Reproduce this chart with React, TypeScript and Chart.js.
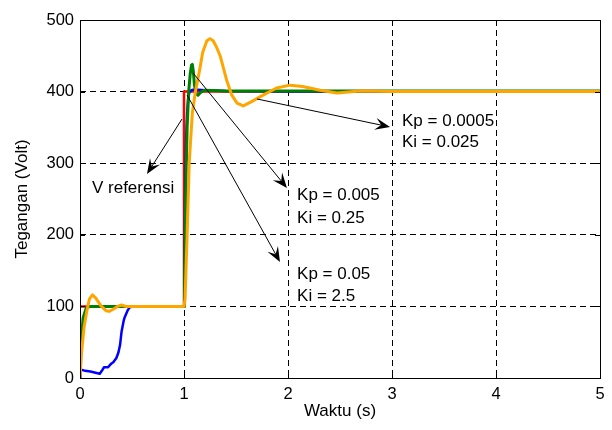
import React, { useEffect, useRef } from "react";
import { Chart, registerables } from "chart.js";

Chart.register(...registerables);

// ---- Axis ticks ----
const xTicks = [0, 1, 2, 3, 4, 5];
const yTicks = [0, 100, 200, 300, 400, 500];

// ---- V referensi (red) ----
const refTime = [0, 1, 1, 5];
const refVolt = [100, 100, 400, 400];

// ---- Kp = 0.05, Ki = 2.5 (blue) ----
const blueTime = [0, 0.005, 0.05, 0.1, 0.19, 0.21, 0.23, 0.27, 0.3, 0.32, 0.35, 0.37, 0.385, 0.4, 0.42, 0.43, 0.46, 0.48, 0.55, 1.0, 1.005, 1.01, 1.02, 1.03, 1.04, 1.05, 1.07, 1.1, 1.2, 1.4, 2, 5];
const blueVolt = [0, 12, 10, 9, 6, 10, 15, 15, 20, 22, 28, 36, 46, 65, 80, 85, 95, 99, 100, 100, 150, 250, 330, 370, 390, 398, 402, 403, 402, 401, 400, 400];

// ---- Kp = 0.005, Ki = 0.25 (green) ----
const greenTime = [0, 0.01, 0.03, 0.06, 0.1, 1.0, 1.005, 1.015, 1.03, 1.045, 1.06, 1.072, 1.08, 1.09, 1.1, 1.115, 1.135, 1.16, 1.2, 1.4, 2, 5];
const greenVolt = [30, 50, 84, 98, 100, 100, 130, 250, 350, 400, 425, 437, 438, 428, 410, 397, 395, 399, 402, 401, 401, 401];

// ---- Kp = 0.0005, Ki = 0.025 (orange) ----
const orangeTime = [0, 0.015, 0.04, 0.065, 0.09, 0.12, 0.15, 0.2, 0.25, 0.28, 0.32, 0.36, 0.4, 0.44, 0.5, 1.0, 1.01, 1.03, 1.05, 1.08, 1.11, 1.15, 1.18, 1.22, 1.25, 1.28, 1.31, 1.35, 1.41, 1.46, 1.51, 1.57, 1.65, 1.76, 1.89, 2.02, 2.14, 2.31, 2.47, 2.69, 3.0, 5];
const orangeVolt = [0, 35, 72, 93, 110, 116, 112, 101, 94, 93, 96, 100, 102, 100, 100, 100, 110, 200, 300, 370, 400, 430, 455, 471, 474, 471, 463, 449, 416, 395, 384, 380, 386, 395, 405, 409, 407, 402, 398, 401, 400, 400];

// ---- Annotations (data coordinates) ----
const noteLines = [["V referensi"], ["Kp = 0.005", "Ki = 0.25"], ["Kp = 0.05", "Ki = 2.5"], ["Kp = 0.0005", "Ki = 0.025"]];
const noteX = [0.115, 2.087, 2.087, 3.096];
const noteY = [[265.4], [255.6, 223.5], [145.3, 114.5], [359, 329.6]];
const arrowFromX = [0.981, 1.087, 1.029, 1.702];
const arrowFromY = [361.7, 426, 395.3, 389.7];
const arrowToX = [0.644, 1.99, 1.923, 2.981];
const arrowToY = [284.9, 265.4, 162, 350.6];

const FONT = "'Liberation Sans', Arial, sans-serif";

const toPts = (t: number[], v: number[]) => t.map((x, i) => ({ x, y: v[i] }));

const overlayPlugin = {
  id: "overlay",
  afterDatasetsDraw(chart: any) {
    const { ctx, chartArea: a } = chart;
    const xs = chart.scales.x;
    const ys = chart.scales.y;
    ctx.save();
    ctx.setLineDash([]);
    ctx.strokeStyle = "#000";
    ctx.lineWidth = 1;
    // box
    ctx.strokeRect(a.left + 0.5, a.top + 0.5, a.right - a.left, a.bottom - a.top);
    // inward ticks
    const tl = 5;
    ctx.beginPath();
    xTicks.forEach((v) => {
      const px = Math.round(xs.getPixelForValue(v)) + 0.5;
      ctx.moveTo(px, a.bottom);
      ctx.lineTo(px, a.bottom - tl);
      ctx.moveTo(px, a.top);
      ctx.lineTo(px, a.top + tl);
    });
    yTicks.forEach((v) => {
      const py = Math.round(ys.getPixelForValue(v)) + 0.5;
      ctx.moveTo(a.left, py);
      ctx.lineTo(a.left + tl, py);
      ctx.moveTo(a.right, py);
      ctx.lineTo(a.right - tl, py);
    });
    ctx.stroke();

    // arrows
    arrowFromX.forEach((_, i) => {
      const x1 = xs.getPixelForValue(arrowFromX[i]);
      const y1 = ys.getPixelForValue(arrowFromY[i]);
      const x2 = xs.getPixelForValue(arrowToX[i]);
      const y2 = ys.getPixelForValue(arrowToY[i]);
      const ang = Math.atan2(y2 - y1, x2 - x1);
      const len = 15, hw = 6, notch = 9;
      const c = Math.cos(ang), s = Math.sin(ang);
      ctx.beginPath();
      ctx.moveTo(x1, y1);
      ctx.lineTo(x2 - c * notch, y2 - s * notch);
      ctx.stroke();
      const bx = x2 - c * len, by = y2 - s * len;
      ctx.beginPath();
      ctx.moveTo(x2, y2);
      ctx.lineTo(bx - s * hw, by + c * hw);
      ctx.lineTo(x2 - c * notch, y2 - s * notch);
      ctx.lineTo(bx + s * hw, by - c * hw);
      ctx.closePath();
      ctx.fillStyle = "#000";
      ctx.fill();
    });

    // texts
    ctx.fillStyle = "#000";
    ctx.font = `17px ${FONT}`;
    ctx.textAlign = "left";
    ctx.textBaseline = "middle";
    noteLines.forEach((lines, i) => {
      const px = xs.getPixelForValue(noteX[i]);
      lines.forEach((txt, j) => {
        ctx.fillText(txt, px, ys.getPixelForValue(noteY[i][j]));
      });
    });
    ctx.restore();
  },
};

export default function App() {
  const ref = useRef<HTMLCanvasElement | null>(null);
  useEffect(() => {
    document.body.style.margin = "0";
    const canvas = ref.current;
    if (!canvas) return;
    const gridColor = (edgeA: number, edgeB: number) => (c: any) =>
      c.tick && (c.tick.value === edgeA || c.tick.value === edgeB) ? "rgba(0,0,0,0)" : "#000";
    const chart = new Chart(canvas, {
      type: "line",
      data: {
        datasets: [
          { label: "Kp = 0.0005", data: toPts(orangeTime, orangeVolt), borderColor: "#ffa500", borderWidth: 3 },
          { label: "Kp = 0.005", data: toPts(greenTime, greenVolt), borderColor: "#008000", borderWidth: 3 },
          { label: "Kp = 0.05", data: toPts(blueTime, blueVolt), borderColor: "#0000ff", borderWidth: 2.5 },
          { label: "V referensi", data: toPts(refTime, refVolt), borderColor: "#ff0000", borderWidth: 2.5 },
        ].map((d) => ({ ...d, pointRadius: 0, tension: 0, fill: false, borderJoinStyle: "round", backgroundColor: d.borderColor })),
      },
      options: {
        animation: false,
        responsive: false,
        devicePixelRatio: 1,
        layout: { padding: { top: 20, right: 12, left: 0, bottom: 0 } },
        plugins: { legend: { display: false }, tooltip: { enabled: false } },
        scales: {
          x: {
            type: "linear",
            min: 0,
            max: 5,
            afterFit: (s: any) => { s.height = 52; },
            afterBuildTicks: (s: any) => { s.ticks = xTicks.map((value) => ({ value })); },
            ticks: { color: "#000", font: { family: FONT, size: 16.5 }, padding: 7, callback: (v: any) => String(v) },
            grid: { color: gridColor(0, 5), lineWidth: 1, drawTicks: false },
            border: { display: false, dash: [6, 4] },
            title: { display: true, text: "Waktu (s)", color: "#000", font: { family: FONT, size: 17 }, padding: { top: 0, bottom: 8.5 } },
          },
          y: {
            type: "linear",
            min: 0,
            max: 500,
            afterFit: (s: any) => { s.width = 80; },
            afterBuildTicks: (s: any) => { s.ticks = yTicks.map((value) => ({ value })); },
            ticks: { color: "#000", font: { family: FONT, size: 16.5 }, padding: 6, callback: (v: any) => String(v) },
            grid: { color: gridColor(0, 500), lineWidth: 1, drawTicks: false },
            border: { display: false, dash: [6, 4] },
            title: { display: true, text: "Tegangan (Volt)", color: "#000", font: { family: FONT, size: 17 }, padding: { top: 12.5, bottom: 0 } },
          },
        },
      },
      plugins: [overlayPlugin],
    } as any);
    return () => chart.destroy();
  }, []);
  return (
    <div style={{ width: 612, height: 430 }}>
      <canvas ref={ref} width={612} height={430} style={{ display: "block" }} />
    </div>
  );
}
